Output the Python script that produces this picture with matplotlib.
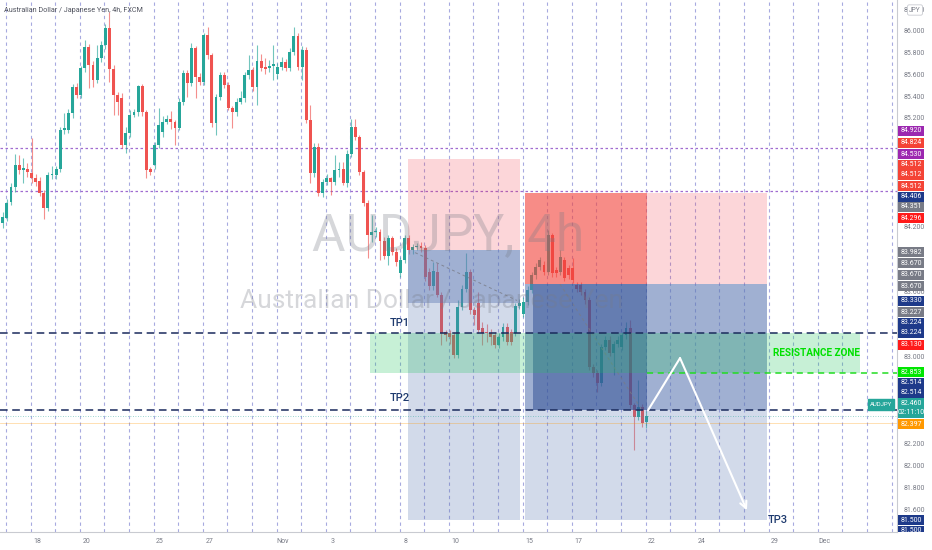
import matplotlib
matplotlib.use('Agg')
import matplotlib.pyplot as plt
import numpy as np
from matplotlib.patches import Rectangle
from matplotlib.transforms import Bbox

plt.rcParams['font.family'] = ['Roboto', 'DejaVu Sans']

# ---------------- data (AUDJPY 4h candles) ----------------
opens = [84.23,84.28,84.43,84.56,84.77,84.72,84.73,84.69,84.65,84.62,84.51,84.37,84.67,84.67,84.73,85.09,85.09,85.24,85.48,85.41,
         85.66,85.85,85.69,85.55,85.75,85.87,86.03,85.65,85.41,85.38,84.95,85.06,85.23,85.25,85.49,85.25,84.73,84.77,84.95,85.07,
         85.16,85.19,85.16,85.11,85.35,85.61,85.52,85.84,85.58,85.53,85.96,85.78,85.15,85.39,85.59,85.50,85.29,85.25,85.35,85.38,
         85.59,85.64,85.48,85.72,85.67,85.66,85.68,85.60,85.67,85.71,85.66,85.81,85.95,85.67,85.82,85.18,84.69,84.93,84.51,84.61,
         84.65,84.61,84.72,84.73,84.60,84.87,85.12,85.02,84.70,84.42,84.12,84.15,84.15,84.07,83.93,84.09,83.97,83.77,83.89,84.09,
         83.98,84.01,84.02,84.00,83.78,83.65,83.78,83.57,83.23,83.22,83.20,83.02,83.46,83.63,83.78,83.43,83.50,83.27,83.23,83.22,
         83.20,83.11,83.18,83.28,83.23,83.22,83.47,83.40,83.51,83.62,83.75,83.83,83.85,83.78,84.12,83.80,83.78,83.89,83.82,83.82,
         83.66,83.66,83.60,83.52,82.91,82.85,82.76,83.09,83.16,83.04,83.12,83.09,83.20,83.27,82.56,82.45,82.54,82.40]
highs = [84.33,84.45,84.60,84.87,84.86,84.83,84.78,85.01,84.68,84.66,84.54,84.70,84.76,84.76,85.12,85.24,85.28,85.51,85.52,85.68,
         85.92,85.88,85.72,85.87,85.91,86.06,86.17,85.69,85.44,85.43,85.12,85.27,85.28,85.50,85.51,85.27,84.75,84.98,85.29,85.22,
         85.23,85.26,85.18,85.38,85.64,85.64,85.89,85.86,85.61,85.98,86.04,85.80,85.42,85.62,85.62,85.53,85.31,85.38,85.45,85.62,
         85.78,85.67,85.87,85.79,85.75,85.73,85.87,85.70,85.76,85.74,85.84,86.04,85.98,85.86,85.85,85.32,84.97,84.97,84.64,84.68,
         84.66,84.86,84.79,84.79,84.90,85.19,85.19,85.04,84.72,84.44,84.31,84.20,84.18,84.10,84.12,84.11,84.00,83.92,84.12,84.12,
         84.04,84.05,84.06,84.03,83.82,83.87,83.86,83.60,83.25,83.25,83.23,83.52,83.66,83.96,83.81,83.46,83.60,83.32,83.30,83.26,
         83.23,83.22,83.31,83.31,83.26,83.50,83.53,83.55,83.65,83.78,83.86,83.92,83.88,84.17,84.14,83.83,83.98,83.92,83.85,83.91,
         83.69,83.69,83.63,83.55,82.94,82.88,83.12,83.19,83.19,83.15,83.19,83.23,83.32,83.34,82.58,82.79,82.57,82.50]
lows = [84.19,84.25,84.40,84.52,84.68,84.60,84.66,84.60,84.57,84.48,84.27,84.34,84.64,84.64,84.70,85.05,85.06,85.20,85.38,85.38,
        85.62,85.47,85.48,85.52,85.71,85.83,85.53,85.23,85.23,84.92,84.88,85.02,85.21,85.22,85.22,84.65,84.67,84.73,84.92,85.02,
        85.14,85.10,84.95,85.09,85.32,85.39,85.49,85.38,85.50,85.50,85.74,85.12,85.04,85.36,85.47,85.27,85.11,85.22,85.33,85.35,
        85.56,85.45,85.32,85.63,85.60,85.62,85.55,85.56,85.64,85.63,85.63,85.78,85.64,85.55,85.15,84.60,84.66,84.48,84.47,84.58,
        84.49,84.58,84.66,84.58,84.56,84.84,85.00,84.67,84.39,83.91,84.06,84.10,83.89,83.90,83.85,83.94,83.84,83.74,83.86,83.95,
        83.95,83.98,83.97,83.70,83.62,83.62,83.55,83.11,83.15,83.12,82.99,82.99,83.43,83.60,83.40,83.29,83.22,83.11,83.14,83.11,
        83.08,83.08,83.15,83.11,83.11,83.19,83.44,83.37,83.48,83.59,83.72,83.80,83.75,83.75,83.74,83.74,83.75,83.70,83.72,83.68,
        83.60,83.57,83.49,82.88,82.82,82.68,82.73,83.06,83.01,82.83,83.09,83.06,83.17,82.53,82.14,82.42,82.36,82.35]
closes = [84.29,84.42,84.56,84.77,84.72,84.74,84.70,84.65,84.61,84.51,84.37,84.67,84.68,84.73,85.09,85.11,85.24,85.48,85.41,85.66,
          85.85,85.69,85.55,85.75,85.87,86.03,85.65,85.41,85.35,84.95,85.06,85.23,85.25,85.49,85.25,84.72,84.70,84.95,85.13,85.16,
          85.19,85.16,85.11,85.35,85.61,85.52,85.84,85.58,85.53,85.96,85.78,85.15,85.39,85.59,85.50,85.29,85.25,85.35,85.38,85.59,
          85.64,85.48,85.72,85.66,85.65,85.68,85.69,85.67,85.71,85.66,85.81,85.95,85.67,85.82,85.18,84.69,84.93,84.51,84.61,84.65,
          84.61,84.72,84.73,84.60,84.87,85.12,85.02,84.70,84.42,84.12,84.15,84.16,84.07,83.93,84.09,83.97,83.87,83.89,84.09,83.98,
          84.01,84.02,84.00,83.74,83.65,83.79,83.57,83.22,83.20,83.18,83.02,83.46,83.63,83.78,83.43,83.39,83.25,83.22,83.22,83.18,
          83.11,83.18,83.28,83.14,83.14,83.47,83.50,83.51,83.62,83.75,83.83,83.89,83.78,84.12,83.77,83.77,83.92,83.73,83.75,83.71,
          83.63,83.60,83.52,82.91,82.85,82.76,83.09,83.16,83.04,83.12,83.16,83.20,83.27,82.56,82.45,82.54,82.39,82.46]

# date ticks (trading days counted from Mon 18 Oct)
tick_days = [0, 2, 5, 7, 10, 12, 15, 17, 20, 22, 25, 27, 30, 32]
tick_labels = ['18', '20', '25', '27', 'Nov', '3', '8', '10', '15', '17', '22', '24', '29', 'Dec']
first_candle_day = -1.39

# price levels
purple_levels = [84.920, 84.530]
tp1_level = 83.224
tp2_level = 82.514
zone_top, zone_bottom = 83.224, 82.853
last_price = 82.460
orange_level = 82.397

# position tools: (start day, end day, stop, entry, partial target, final target)
pos1 = (15.08, 19.63, 84.824, 83.982, 83.500, 81.500)
pos2 = (19.84, 29.67, 84.512, 83.670, 82.514, 81.500)
pos3_red = (19.84, 24.80, 84.512, 83.670)
pos3_blue = (20.16, 24.80, 83.670, 82.514)
zone_days = (13.54, 33.46)
arrow_days = [24.84, 26.14, 28.86]
arrow_prices = [82.51, 82.99, 81.59]

# right scale labels
axis_ticks = [86.2, 86.0, 85.8, 85.6, 85.4, 85.2, 84.2, 83.6, 83.0, 82.2, 82.0, 81.8, 81.6]
scale_labels = ['84.920', '84.824', '84.530', '84.512', '84.512', '84.512', '84.406', '84.351', '84.296',
                '83.982', '83.670', '83.670', '83.670', '83.330', '83.227', '83.224', '83.224', '83.130',
                '82.853', '82.514', '82.514', '82.460\n02:11:10', '82.397', '81.500', '81.500']
scale_colors = ['#9c27b0', '#f44336', '#9c27b0', '#f44336', '#f44336', '#f44336', '#1e3a8a', '#787b86', '#ff1a1a',
                '#787b86', '#787b86', '#787b86', '#787b86', '#1e3a8a', '#787b86', '#1e3a8a', '#1e3a8a', '#ff1a1a',
                '#00e600', '#1e3a8a', '#1e3a8a', '#26a69a', '#ff9800', '#1e3a8a', '#1e3a8a']
# layout: pixel centre (from top) of each stacked label
scale_label_y = [131, 143, 154, 165, 175, 186, 197, 207, 218,
                 252, 263, 275, 286, 301, 312, 323, 333, 345,
                 372, 383, 393, 408, 424, 520, 531]

# ---------------- figure ----------------
W, H = 932, 550
fig = plt.figure(figsize=(W / 100, H / 100), dpi=100)
fig.patch.set_facecolor('white')
ax = fig.add_axes([0, 18 / H, 897 / W, 532 / H])
ax.set_xlim(-1.504, 34.96)
ax.set_ylim(81.39, 86.284)
ax.set_facecolor('white')

# vertical dashed day lines
for d in np.arange(-1.26, 35, 1.0):
    ax.axvline(d, color='#9195d8', lw=0.8, ls=(0, (3, 3)), alpha=0.8, zorder=1)

# purple dotted levels
for lv in purple_levels:
    ax.axhline(lv, color='#a06cd0', lw=0.9, ls=(0, (2, 2)), zorder=1.5)

# watermark
fig.text(448 / W, 1 - 236 / H, 'AUDJPY, 4h', fontsize=37, color='#787b86', alpha=0.3,
         ha='center', va='center', zorder=0.5)
fig.text(432 / W, 1 - 301 / H, 'Australian Dollar / Japanese Yen', fontsize=19, color='#787b86', alpha=0.3,
         ha='center', va='center', zorder=0.5)

# candles
n = len(closes)
xs = first_candle_day + np.arange(n) / 6.0
o = np.array(opens); c = np.array(closes); hi = np.array(highs); lo = np.array(lows)
up = c >= o
cols = np.where(up, '#26a69a', '#ef5350')
ax.vlines(xs, lo, hi, colors=cols, lw=0.8, alpha=0.65, zorder=2)
body_b = np.minimum(o, c)
body_h = np.maximum(np.abs(c - o), 0.012)
ax.bar(xs, body_h, bottom=body_b, width=0.12, color=cols, zorder=2.2, linewidth=0)

# position tool 1
s, e, stop, entry, mid, tgt = pos1
ax.add_patch(Rectangle((s, entry), e - s, stop - entry, color='#f23645', alpha=0.2, lw=0, zorder=3))
ax.add_patch(Rectangle((s, tgt), e - s, entry - tgt, color='#5b77b2', alpha=0.27, lw=0, zorder=3))
ax.add_patch(Rectangle((s, mid), e - s, entry - mid, color='#5b77b2', alpha=0.42, lw=0, zorder=3))
# position tool 2
s, e, stop, entry, mid, tgt = pos2
ax.add_patch(Rectangle((s, entry), e - s, stop - entry, color='#f23645', alpha=0.2, lw=0, zorder=3))
ax.add_patch(Rectangle((s, tgt), e - s, entry - tgt, color='#5b77b2', alpha=0.27, lw=0, zorder=3))
ax.add_patch(Rectangle((s, mid), e - s, entry - mid, color='#5b77b2', alpha=0.42, lw=0, zorder=3))
# overlay tool 3
s, e, top, bot = pos3_red
ax.add_patch(Rectangle((s, bot), e - s, top - bot, color='#f44336', alpha=0.5, lw=0, zorder=3.1))
s, e, top, bot = pos3_blue
ax.add_patch(Rectangle((s, bot), e - s, top - bot, color='#1e3f8a', alpha=0.45, lw=0, zorder=3.1))

# trade dashed diagonals
ax.plot([15.37, 19.51], [83.96, 83.52], color='#787b86', lw=0.7, ls=(0, (3, 3)), alpha=0.8, zorder=3.2)
ax.plot([21.26, 24.63], [83.67, 82.50], color='#787b86', lw=0.7, ls=(0, (3, 3)), alpha=0.8, zorder=3.2)

# resistance zone
ax.add_patch(Rectangle((zone_days[0], zone_bottom), zone_days[1] - zone_days[0], zone_top - zone_bottom,
                       color='#22c55e', alpha=0.25, lw=0, zorder=3.5))
ax.plot([24.80, 34.96], [zone_bottom, zone_bottom], color='#22dd22', lw=1.1, ls=(0, (4, 3)), zorder=4)
ax.text(29.9, (zone_top + zone_bottom) / 2, 'RESISTANCE ZONE', color='#00e000', fontsize=7.2,
        fontweight='bold', va='center', ha='left', zorder=5)

# TP lines
for lv in (tp1_level, tp2_level):
    ax.axhline(lv, color='#1a2a5c', lw=1.1, ls=(0, (5, 3)), zorder=4)
ax.axhline(last_price, color='#26a69a', lw=0.6, ls=(0, (1, 2)), alpha=0.6, zorder=3.9)
ax.axhline(orange_level, color='#ff9800', lw=0.6, alpha=0.35, zorder=3.9)

ax.text(14.35, tp1_level + 0.04, 'TP1', color='#1e3a6e', fontsize=8, fontweight='medium',
        va='bottom', ha='left', zorder=5)
ax.text(14.35, tp2_level + 0.06, 'TP2', color='#1e3a6e', fontsize=8, fontweight='medium',
        va='bottom', ha='left', zorder=5)
ax.text(29.72, 81.50, 'TP3', color='#1e3a6e', fontsize=8, fontweight='medium',
        va='center', ha='left', zorder=5)

# white arrow
ax.plot(arrow_days[:2], arrow_prices[:2], color='white', lw=1.5, zorder=6, solid_capstyle='round')
ax.annotate('', xy=(arrow_days[2], arrow_prices[2]), xytext=(arrow_days[1], arrow_prices[1]),
            arrowprops=dict(arrowstyle='->', color='white', lw=1.5, mutation_scale=12,
                            shrinkA=0, shrinkB=0), zorder=6)

# axes styling
for sp in ('top', 'left'):
    ax.spines[sp].set_visible(False)
ax.spines['right'].set_color('#c9cbd1')
ax.spines['bottom'].set_color('#c9cbd1')
ax.spines['right'].set_linewidth(0.8)
ax.spines['bottom'].set_linewidth(0.8)
ax.yaxis.tick_right()
ax.set_yticks(axis_ticks)
ax.set_yticklabels(['%.3f' % v for v in axis_ticks])
ax.tick_params(axis='y', length=0, pad=5, labelsize=5, labelcolor='#787b86')
ax.set_xticks(tick_days)
ax.set_xticklabels(tick_labels)
ax.tick_params(axis='x', length=0, pad=4.5, labelsize=5, labelcolor='#787b86')

# header
fig.text(4 / W, 1 - 10 / H, 'Australian Dollar / Japanese Yen, 4h, FXCM', fontsize=5.2, color='#50535e',
         ha='left', va='center')
fig.text(915 / W, 1 - 10 / H, 'JPY', fontsize=4.8, color='#787b86', ha='center', va='center', zorder=6,
         bbox=dict(boxstyle='round,pad=0.25', fc='white', ec='#c9cbd1', lw=0.6))

# AUDJPY tag
fig.add_artist(Rectangle((868 / W, 1 - 410 / H), 26 / W, 11 / H, transform=fig.transFigure,
                         color='#26a69a', zorder=6))
fig.text(881 / W, 1 - 404.5 / H, 'AUDJPY', fontsize=4.3, color='white', ha='center', va='center', zorder=7)

# stacked price labels
clip = Bbox.from_extents(0, 18, W, H)
for txt, col, yc in zip(scale_labels, scale_colors, scale_label_y):
    hpx = 20 if '\n' in txt else 10.4
    r = Rectangle((898 / W, 1 - (yc + hpx / 2) / H), 26 / W, hpx / H, transform=fig.transFigure,
                  color=col, zorder=6, lw=0)
    fig.add_artist(r)
    r.set_clip_box(clip)
    t = fig.text(911 / W, 1 - yc / H, txt, fontsize=5, color='white', ha='center', va='center',
                 zorder=7, linespacing=1.3)
    t.set_clip_box(clip)
    t.set_clip_on(True)

fig.savefig('out.png', dpi=100)
